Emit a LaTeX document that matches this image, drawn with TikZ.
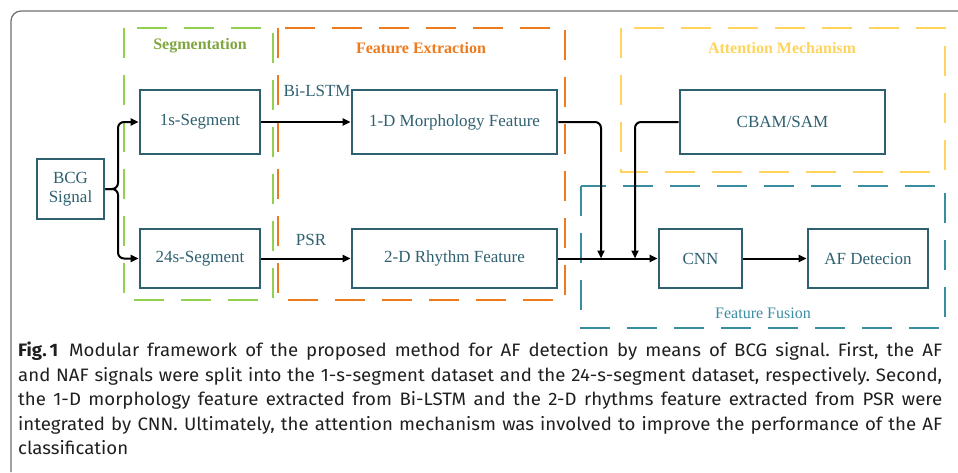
\documentclass[tikz,border=0pt]{standalone}
\usepackage{fontspec}
\setmainfont{Liberation Serif}
\newfontfamily\capfont[FakeStretch=1.035]{Fira Sans}
\usepackage{xcolor}
\definecolor{BoxTeal}{HTML}{2E6070}
\definecolor{SegGreen}{HTML}{92D050}
\definecolor{SegText}{HTML}{7FA63E}
\definecolor{ExtOrange}{HTML}{EE7A1E}
\definecolor{AttYellow}{HTML}{FFD45C}
\definecolor{FusTeal}{HTML}{3A8CA0}
\definecolor{FrameGray}{HTML}{6E6E6E}
\usetikzlibrary{positioning, arrows.meta}
\frenchspacing

\begin{document}
\begin{tikzpicture}[
    x=1pt, y=-1pt,
    font=\fontsize{17}{20}\selectfont,
    module/.style={draw=BoxTeal, line width=2.6pt, text=BoxTeal, align=center, inner sep=0pt},
    group/.style={line width=2.4pt, dash pattern=on 30pt off 17pt},
    group_label/.style={font=\fontsize{16}{19}\selectfont\bfseries},
    flow/.style={-{Triangle[length=8pt, width=7pt]}, black, line width=2pt, rounded corners=6pt}
]
    \useasboundingbox (0,0) rectangle (958,472);

    % 0. FRAME
    \draw[FrameGray, line width=1.2pt, rounded corners=10pt] (11,472) -- (11,11) -- (958,11);

    % 1. GROUPS
    \draw[group, SegGreen] (124,28) rectangle (273,300);
    \draw[group, ExtOrange] (278,28) rectangle (565,300);
    \draw[group, AttYellow] (621,28) rectangle (945,172);
    \draw[group, FusTeal] (581,186) rectangle (945,328);
    \node[group_label, text=SegText] (segtitle) at (200,46) {Segmentation};
    \node[group_label, text=ExtOrange] (exttitle) at (421,48) {Feature Extraction};
    \node[group_label, text=AttYellow] (atttitle) at (782,48) {Attention Mechanism};
    \node[text=FusTeal, font=\fontsize{16}{19}\selectfont] (fustitle) at (763,313) {Feature Fusion};

    % 2. MODULES
    \node[module, minimum width=67pt, minimum height=60pt] (bcg) at (70.5,189) {BCG\\[-1pt]Signal};
    \node[module, minimum width=120pt, minimum height=64pt] (seg1) at (200,122) {1s-Segment};
    \node[module, minimum width=120pt, minimum height=59pt] (seg24) at (200,258.5) {24s-Segment};
    \node[module, minimum width=205pt, minimum height=64pt] (morph) at (454.5,122) {1-D Morphology Feature};
    \node[module, minimum width=205pt, minimum height=59pt] (rhythm) at (454.5,258.5) {2-D Rhythm Feature};
    \node[module, minimum width=205pt, minimum height=64pt] (cbam) at (782.5,122) {CBAM/SAM};
    \node[module, minimum width=83pt, minimum height=59pt] (cnn) at (700.5,258.5) {CNN};
    \node[module, minimum width=120pt, minimum height=59pt] (afdet) at (868,258.5) {AF Detecion};

    % 3. CONNECTORS
    \coordinate (split) at (118,189);
    \coordinate (joinmorph) at (601,258.5);
    \coordinate (joincbam) at (635,258.5);
    \draw[flow] (bcg.east) -- (split) |- (seg1.west);
    \draw[flow] (bcg.east) -- (split) |- (seg24.west);
    \draw[flow] (seg1.east) -- (morph.west);
    \draw[flow] (seg24.east) -- (rhythm.west);
    \draw[flow] (morph.east) -| (joinmorph);
    \draw[flow] (cbam.west) -| (joincbam);
    \draw[flow] (rhythm.east) -- (cnn.west);
    \draw[flow] (cnn.east) -- (afdet.west);
    \node[text=BoxTeal, anchor=west] (lstm) at (280,91) {Bi-LSTM};
    \node[text=BoxTeal] (psr) at (311,240) {PSR};

    % 4. CAPTION
    \node[anchor=north west, align=justify, text width=924pt, inner sep=0pt, text=black!88,
          font=\capfont\fontsize{18}{24.5}\selectfont] (caption) at (18,342)
    {\textbf{Fig.\kern3pt1}\hspace{0.6em}Modular framework of the proposed method for AF detection by means of BCG signal. First, the AF\linebreak
     and NAF signals were split into the 1-s-segment dataset and the 24-s-segment dataset, respectively. Second,\linebreak
     the 1-D morphology feature extracted from Bi-LSTM and the 2-D rhythms feature extracted from PSR were\linebreak
     integrated by CNN. Ultimately, the attention mechanism was involved to improve the performance of the AF\linebreak
     classification};
\end{tikzpicture}
\end{document}
